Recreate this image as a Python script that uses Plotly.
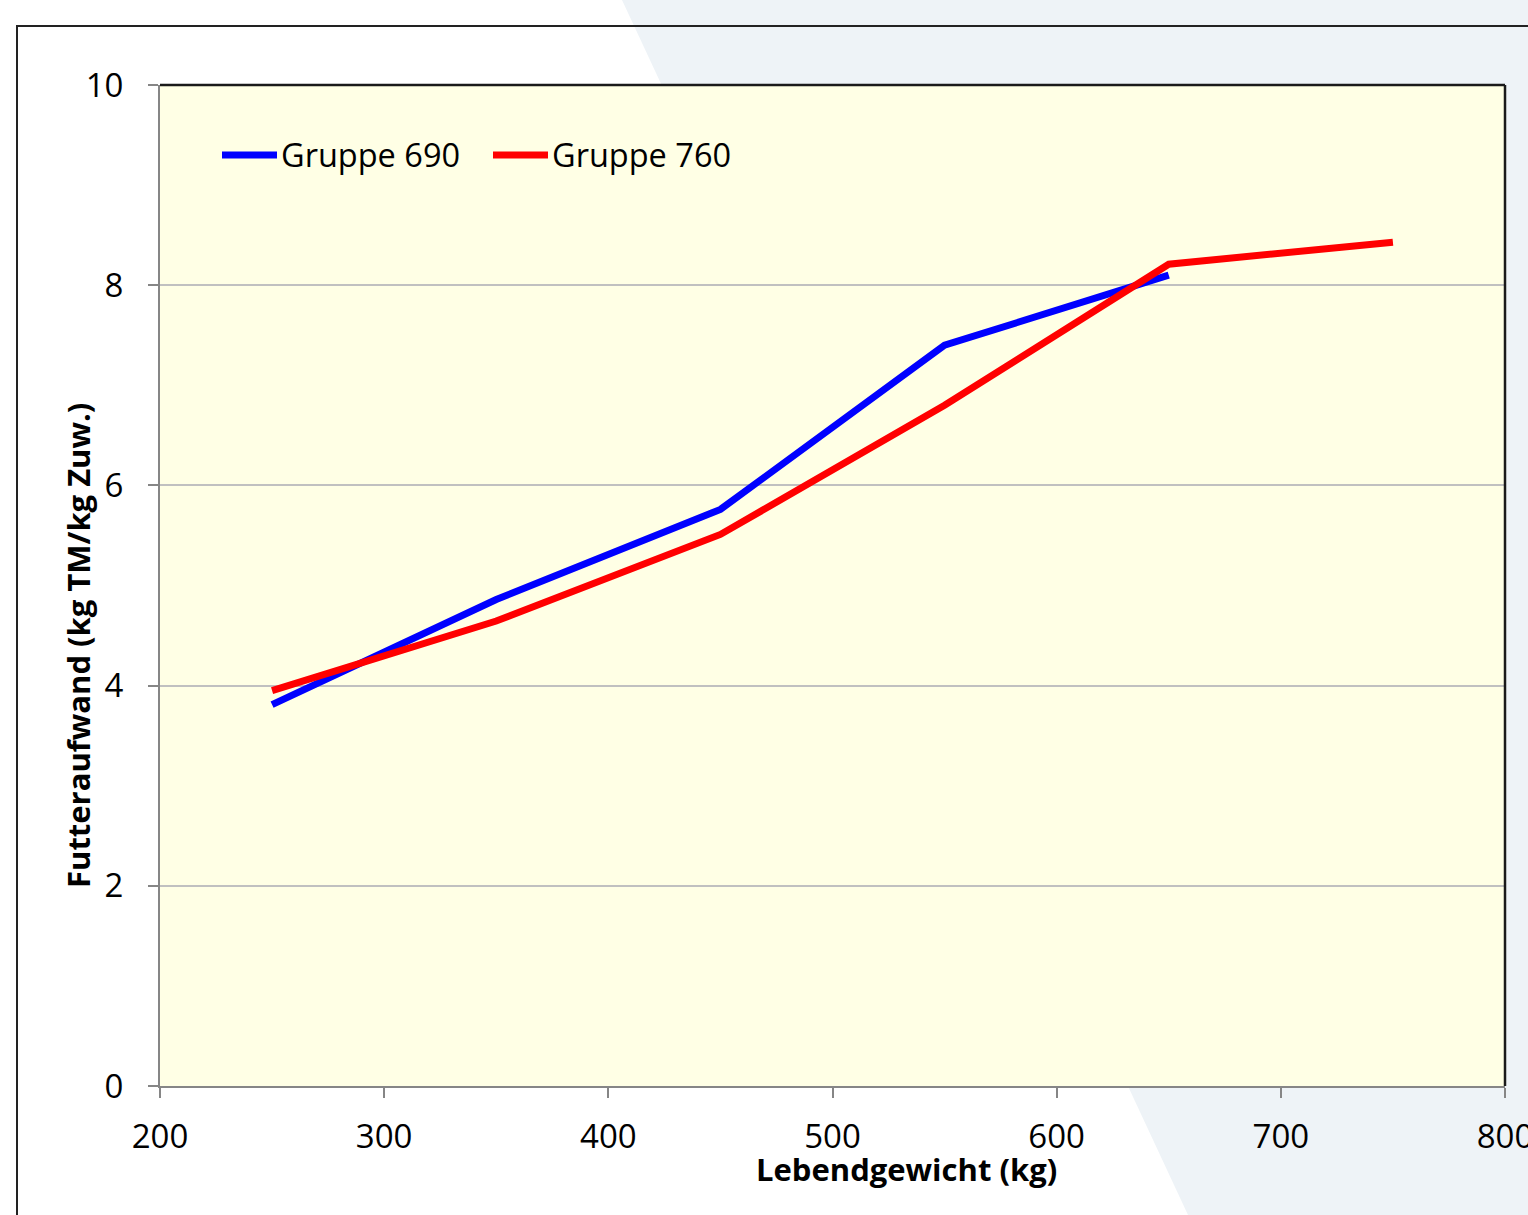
import plotly.graph_objects as go

# Futteraufwand je Gewichtsabschnitt
gewicht_690 = [250, 350, 450, 550, 650]
aufwand_690 = [3.81, 4.86, 5.76, 7.40, 8.10]

gewicht_760 = [250, 350, 450, 550, 650, 750]
aufwand_760 = [3.95, 4.645, 5.51, 6.80, 8.21, 8.43]

x_ticks = [200, 300, 400, 500, 600, 700, 800]
y_ticks = [0, 2, 4, 6, 8, 10]

W, H = 1528, 1215
L, R, T, B = 160, 1505, 85, 1086


def px(x):
    return (x - L) / (R - L)


def py(y):
    return (B - y) / (B - T)


FONT = "Open Sans"

fig = go.Figure()
fig.add_trace(go.Scatter(x=gewicht_690, y=aufwand_690, mode="lines", name="Gruppe 690",
                         line=dict(color="#0000FF", width=7), showlegend=False))
fig.add_trace(go.Scatter(x=gewicht_760, y=aufwand_760, mode="lines", name="Gruppe 760",
                         line=dict(color="#FF0000", width=7), showlegend=False))

shapes = [
    # hellgraue Hintergrundfläche
    dict(type="path", xref="paper", yref="paper", layer="below",
         path=f"M{px(622)},{py(0)} L{px(1540)},{py(0)} L{px(1540)},{py(1230)} L{px(1195)},{py(1230)} Z",
         fillcolor="#EEF3F7", line=dict(width=0)),
    # gelbe Zeichenfläche
    dict(type="rect", xref="paper", yref="paper", layer="below",
         x0=0, x1=1, y0=0, y1=1, fillcolor="#FFFFE5", line=dict(width=0)),
    # äußerer Rahmen
    dict(type="path", xref="paper", yref="paper", layer="below",
         path=f"M{px(17)},{py(1240)} L{px(17)},{py(26)} L{px(1560)},{py(26)}",
         line=dict(color="#222222", width=2)),
    # obere und rechte Kante des Diagramms
    dict(type="line", xref="paper", yref="paper", x0=0, x1=1, y0=1, y1=1,
         line=dict(color="#1a1a1a", width=2.5)),
    dict(type="line", xref="paper", yref="paper", x0=1, x1=1, y0=0, y1=1,
         line=dict(color="#1a1a1a", width=2.5)),
]

annotations = [
    dict(text="<b>Lebendgewicht (kg)</b>", xref="paper", yref="paper",
         x=px(906), y=py(1169), xanchor="center", yanchor="middle", showarrow=False,
         font=dict(size=31, family=FONT, color="black")),
    dict(text="<b>Futteraufwand (kg TM/kg Zuw.)</b>", xref="paper", yref="paper",
         x=px(78), y=py(646), xanchor="center", yanchor="middle", textangle=-90, showarrow=False,
         font=dict(size=31, family=FONT, color="black")),
]

# Legende
legend_items = [("Gruppe 690", "#0000FF", 222), ("Gruppe 760", "#FF0000", 493)]
for name, color, x0 in legend_items:
    shapes.append(dict(type="line", xref="paper", yref="paper",
                       x0=px(x0), x1=px(x0 + 55), y0=py(155), y1=py(155),
                       line=dict(color=color, width=7)))
    annotations.append(dict(text=name, xref="paper", yref="paper", x=px(x0 + 57), y=py(155),
                            xanchor="left", yanchor="middle", showarrow=False,
                            font=dict(size=32.5, family=FONT, color="black")))

fig.update_layout(
    width=W, height=H,
    margin=dict(l=L, r=W - R, t=T, b=H - B, autoexpand=False),
    paper_bgcolor="white",
    plot_bgcolor="rgba(0,0,0,0)",
    shapes=shapes,
    annotations=annotations,
    font=dict(family=FONT, size=33, color="black"),
)
fig.update_xaxes(range=[200, 800], tickvals=x_ticks, showgrid=False, zeroline=False,
                 showline=True, linecolor="#868686", linewidth=2,
                 ticks="outside", ticklen=10, tickcolor="#868686", tickwidth=2,
                 ticklabelstandoff=10, ticklabeloverflow="allow", automargin=False,
                 tickfont=dict(size=33, family=FONT, color="black"))
fig.update_yaxes(range=[0, 10], tickvals=y_ticks, showgrid=True, gridcolor="#C0C0C0", gridwidth=2,
                 zeroline=False, showline=True, linecolor="#868686", linewidth=2,
                 ticks="outside", ticklen=10, tickcolor="#868686", tickwidth=2,
                 ticklabelstandoff=18, automargin=False,
                 tickfont=dict(size=33, family=FONT, color="black"))

fig.write_html("out.html")
